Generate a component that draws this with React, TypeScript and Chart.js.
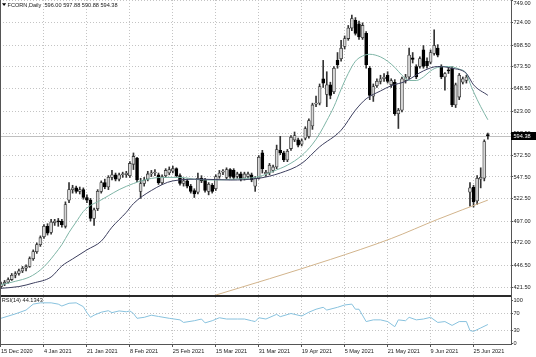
import React, { useEffect, useRef } from "react";
import { Chart, registerables } from "chart.js";

Chart.register(...registerables);

// ---------- data ----------
const TICK_IDX = [0, 12, 24, 36, 48, 60, 72, 84, 96, 108, 120, 132];
const TICK_LABELS = [
  "15 Dec 2020", "4 Jan 2021", "21 Jan 2021", "8 Feb 2021", "25 Feb 2021", "15 Mar 2021",
  "31 Mar 2021", "19 Apr 2021", "5 May 2021", "21 May 2021", "9 Jun 2021", "25 Jun 2021",
];
const PRICE_TICKS = [749.0, 724.0, 698.5, 673.5, 648.5, 623.0, 597.5, 572.5, 547.5, 522.5, 497.0, 472.0, 446.5, 421.5];
const RSI_TICKS = [0, 30, 70, 100];

const OPEN = [
  422, 425, 427, 430, 435, 437, 440, 443, 445, 454, 462, 470, 479, 491, 484, 495, 497, 497, 491, 521,
  533, 535, 531, 533, 524, 521, 500, 511, 531, 541, 536, 547, 550, 545, 550, 550, 549, 562, 569, 531,
  540, 545, 551, 552, 550, 541, 549, 552, 554, 557, 549, 540, 543, 537, 532, 530, 546, 544, 531, 538,
  534, 548, 553, 547, 556, 555, 548, 551, 546, 548, 550, 537, 546, 575, 551, 552, 555, 559, 578, 575,
  567, 580, 590, 590, 585, 592, 594, 606, 631, 632, 660, 642, 653, 645, 681, 683, 697, 706, 718, 727,
  723, 707, 712, 672, 640, 652, 657, 660, 664, 653, 656, 620, 624, 658, 662, 684, 674, 674, 693, 680,
  679, 689, 695, 674, 662, 670, 672, 630, 639, 656, 658, 530, 536, 520, 545, 546, 596.0,
];
const HIGH = [
  427, 429, 432, 437, 439, 442, 445, 447, 456, 464, 472, 480, 493, 494, 499, 499, 500, 499, 519, 541,
  538, 537, 536, 535, 527, 523, 512, 533, 543, 545, 549, 555, 552, 552, 553, 554, 565, 575, 570, 546,
  547, 554, 555, 556, 552, 550, 557, 559, 560, 558, 551, 546, 545, 539, 534, 552, 549, 546, 541, 540,
  550, 555, 556, 558, 557, 557, 553, 553, 553, 553, 552, 548, 572, 578, 555, 563, 561, 584, 594, 577,
  579, 595, 599, 592, 591, 605, 614, 632, 640, 654, 681, 668, 656, 674, 690, 704, 709, 721, 733, 730,
  726, 724, 714, 674, 654, 660, 664, 666, 668, 660, 659, 626, 662, 665, 695, 690, 676, 685, 698, 684,
  693, 716, 699, 676, 667, 673, 674, 655, 666, 662, 664, 541, 538, 549, 558, 590, 597.88,
];
const LOW = [
  420, 423, 426, 429, 432, 435, 438, 440, 444, 452, 460, 468, 477, 481, 482, 492, 491, 490, 489, 518,
  529, 529, 528, 522, 518, 497, 492, 509, 529, 534, 533, 544, 543, 543, 547, 547, 547, 556, 542, 523,
  537, 543, 548, 549, 539, 539, 547, 550, 552, 547, 538, 537, 535, 529, 524, 528, 541, 530, 527, 529,
  532, 546, 550, 545, 546, 545, 546, 543, 544, 546, 542, 531, 545, 552, 548, 550, 553, 557, 573, 565,
  565, 578, 588, 582, 583, 590, 592, 602, 628, 630, 650, 628, 637, 643, 672, 680, 694, 704, 715, 710,
  705, 705, 672, 636, 634, 650, 654, 657, 655, 650, 618, 603, 622, 655, 660, 678, 660, 672, 672, 672,
  677, 687, 685, 660, 647, 666, 628, 627, 636, 654, 655, 514, 513, 516, 535, 543, 590.88,
];
const CLOSE = [
  425, 427, 430, 435, 437, 440, 443, 445, 454, 462, 470, 478, 491, 483, 496, 497, 496, 493, 516, 533,
  535, 531, 533, 524, 521, 500, 510, 531, 541, 536, 547, 550, 545, 550, 551, 552, 563, 571, 544, 540,
  544, 551, 552, 552.5, 541, 548, 555, 556, 557, 549, 540, 543, 537, 531, 528, 546, 543, 532, 539, 531,
  548, 552, 553.5, 556, 548, 547, 551, 545, 551, 551, 544, 546, 570, 557, 553, 561, 559, 579, 575, 567,
  577, 593, 595, 584, 589, 603, 612, 630, 632, 651, 655, 653, 641, 672, 676, 695, 706, 718, 729, 712,
  708, 721, 676, 641, 651, 657, 660, 662, 657, 658, 620, 624, 660, 662, 687, 682, 662, 683, 674, 675,
  690, 698, 687, 662, 666, 669, 630, 653, 664, 660, 662, 535, 519, 546, 547, 588, 594.38,
];

// moving averages: [bar index, value]
const MA_FAST: [number, number][] = [
  [0, 424], [4, 428], [8, 433], [11, 441], [13, 449], [15, 459], [17, 470], [19, 484], [21, 496], [23, 508],
  [25, 515], [27, 519], [30, 526], [33, 533], [37, 540], [41, 545], [45, 547], [50, 547], [55, 544.5], [60, 544],
  [65, 545], [70, 546.5], [73, 549], [76, 554], [80, 561], [84, 572], [87, 585], [89, 597], [91, 612], [93, 628],
  [95, 648], [97, 666], [99, 680], [101, 686], [103, 688], [106, 685], [108, 680], [110, 673], [112, 664], [114, 658],
  [116, 658], [118, 662], [120, 669], [122, 673], [125, 674], [128, 671], [130, 666], [131, 655], [132, 645], [134, 628],
  [136, 613],
];
const MA_SLOW: [number, number][] = [
  [0, 420], [5, 422], [9, 426], [14, 433], [17, 445.6], [20, 453.6], [24, 464], [28, 474], [31, 490], [35, 507],
  [37, 517], [42, 532], [48, 543], [56, 545], [64, 544], [72, 546], [78, 552], [84, 563], [89, 582], [95, 601],
  [99, 624], [102, 637], [106, 646], [109, 652], [113, 657], [118, 669], [122, 674], [126, 672], [130, 666], [132, 653],
  [136, 641],
];
const MA_LONG: [number, number][] = [
  [50, 400], [59, 411], [75, 431], [92, 453], [109, 477], [122, 499], [136, 521],
];
const RSI: [number, number][] = [
  [0, 58.7], [4, 69], [7, 78], [9, 92], [11, 95], [14, 95], [16, 92], [17, 87.5], [19, 94], [21, 95],
  [23, 86], [24, 72], [25, 61], [26, 66], [28, 73], [30, 76.5], [31, 72], [33, 76], [35, 74], [36, 76],
  [37, 70], [38, 58.7], [40, 61], [42, 66], [44, 63], [47, 58.7], [50, 55], [51, 49], [54, 53], [56, 57],
  [57, 48], [59, 53], [61, 60], [63, 57], [66, 57], [68, 57], [70, 53], [71, 51], [72, 60], [74, 57],
  [77, 68], [78, 62.5], [81, 70], [84, 64], [86, 73], [88, 80], [90, 84.5], [91, 78], [94, 84.5], [96, 90],
  [98, 92], [99, 80], [100, 80], [102, 51], [104, 55], [106, 55], [108, 51], [110, 39], [111, 55], [113, 53],
  [114, 61], [116, 55], [118, 57], [120, 61], [122, 49], [124, 51], [126, 42], [128, 51], [130, 51], [131, 30],
  [132, 28], [134, 36], [136, 44.1343],
];

const TITLE = "FCORN,Daily  596.00 597.88 590.88 594.38";
const RSI_TITLE = "RSI(14) 44.1343";
const LAST_CLOSE = CLOSE[CLOSE.length - 1];
const TOP_TICK = PRICE_TICKS[0];

// ---------- styles ----------
const FONT_FAMILY = '"Liberation Sans", Arial, sans-serif';
const FONT_SIZE = 5.6;
const TEXT = "#1a1a1a";
const GRID = "#c4c4c4";
const BORDER = "#555555";
const BULL = "#d6d6d6";
const BULL_EDGE = "#3a3a3a";
const BEAR = "#000000";
const WICK = "#333333";
const FAST_COLOR = "#7fb5a6";
const SLOW_COLOR = "#3c3e5e";
const LONG_COLOR = "#d2b48c";
const RSI_COLOR = "#88c2de";

const X_MIN = -0.279;
const X_MAX = 142.46;
const P_MAX = 750.145;
const P_MIN = 410.05;
const R_MAX = 108.7;
const R_MIN = -1.64;
const AXIS_W = 25;

export default function App() {
  const mainRef = useRef<HTMLCanvasElement>(null);
  const rsiRef = useRef<HTMLCanvasElement>(null);

  useEffect(() => {
    const font = { family: FONT_FAMILY, size: FONT_SIZE };
    const cssFont = `${FONT_SIZE}px ${FONT_FAMILY}`;
    const idx = CLOSE.map((_, i) => i);
    const up = (i: number) => CLOSE[i] >= OPEN[i];

    const xTicks = (s: any) => {
      s.ticks = TICK_IDX.map((v) => ({ value: v }));
    };

    const mainDecor = {
      id: "mainDecor",
      beforeDatasetsDraw(chart: any) {
        const { ctx, chartArea: a, scales } = chart;
        const py = Math.round(scales.y.getPixelForValue(LAST_CLOSE)) + 0.5;
        ctx.save();
        ctx.strokeStyle = "#c0c0c0";
        ctx.lineWidth = 1;
        ctx.beginPath();
        ctx.moveTo(a.left, py);
        ctx.lineTo(a.right, py);
        ctx.stroke();
        ctx.restore();
      },
      afterDraw(chart: any) {
        const { ctx, chartArea: a, scales } = chart;
        ctx.save();
        // panel separator
        ctx.fillStyle = "#2a2a2a";
        ctx.fillRect(0, a.bottom - 2, a.right + 1, 2);
        // borders
        ctx.fillStyle = BORDER;
        ctx.fillRect(a.right, 0, 1, a.bottom);
        ctx.fillRect(0, 0, 1, a.bottom);
        ctx.font = cssFont;
        ctx.textAlign = "left";
        ctx.textBaseline = "middle";
        // top price label (kept inside the canvas, as the terminal does)
        ctx.fillStyle = TEXT;
        const ty = Math.max(scales.y.getPixelForValue(TOP_TICK), 3.5);
        ctx.fillText(TOP_TICK.toFixed(2), a.right + 2.5, ty);
        // current price box
        const py = Math.round(scales.y.getPixelForValue(LAST_CLOSE));
        ctx.fillStyle = "#000";
        ctx.fillRect(a.right, py - 4, chart.width - a.right, 8);
        ctx.fillStyle = "#fff";
        ctx.fillText(LAST_CLOSE.toFixed(2), a.right + 2.5, py + 0.5);
        // title
        ctx.fillStyle = "#000";
        ctx.beginPath();
        ctx.moveTo(2, 3.2);
        ctx.lineTo(6.2, 3.2);
        ctx.lineTo(4.1, 6);
        ctx.closePath();
        ctx.fill();
        ctx.fillStyle = TEXT;
        ctx.fillText(TITLE, 7.5, 5);
        ctx.restore();
      },
    };

    const rsiDecor = {
      id: "rsiDecor",
      afterDraw(chart: any) {
        const { ctx, chartArea: a } = chart;
        ctx.save();
        ctx.fillStyle = BORDER;
        ctx.fillRect(a.right, 0, 1, a.bottom + 1);
        ctx.fillRect(0, a.bottom, a.right + 1, 1);
        ctx.fillRect(0, 0, 1, a.bottom);
        ctx.fillStyle = TEXT;
        ctx.font = cssFont;
        ctx.textAlign = "left";
        ctx.textBaseline = "middle";
        ctx.fillText(RSI_TITLE, 1.7, 3.9);
        ctx.restore();
      },
    };

    const lineDs = (pts: [number, number][], color: string) => ({
      type: "line" as const,
      data: pts.map(([x, y]) => ({ x, y })),
      borderColor: color,
      borderWidth: 1,
      pointRadius: 0,
      cubicInterpolationMode: "monotone" as const,
      order: 0,
    });

    const main = new Chart(mainRef.current as HTMLCanvasElement, {
      type: "bar",
      data: {
        datasets: [
          lineDs(MA_LONG, LONG_COLOR),
          lineDs(MA_SLOW, SLOW_COLOR),
          lineDs(MA_FAST, FAST_COLOR),
          {
            type: "bar",
            data: idx.map((i) => ({ x: i, y: [OPEN[i], CLOSE[i]] })),
            backgroundColor: idx.map((i) => (up(i) ? BULL : BEAR)),
            borderColor: idx.map((i) => (up(i) ? BULL_EDGE : BEAR)),
            borderWidth: 0.8,
            borderSkipped: false,
            barThickness: 3,
            minBarLength: 1,
            grouped: false,
            order: 1,
          } as any,
          {
            type: "bar",
            data: idx.map((i) => ({ x: i, y: [LOW[i], HIGH[i]] })),
            backgroundColor: WICK,
            borderWidth: 0,
            barThickness: 1,
            grouped: false,
            order: 2,
          } as any,
        ],
      },
      options: {
        animation: false,
        responsive: false,
        maintainAspectRatio: false,
        devicePixelRatio: 1,
        layout: { padding: 0 },
        plugins: { legend: { display: false }, tooltip: { enabled: false }, title: { display: false } },
        scales: {
          x: {
            type: "linear",
            min: X_MIN,
            max: X_MAX,
            offset: false,
            bounds: "data",
            grid: { display: true, color: GRID, lineWidth: 1, drawTicks: false, offset: false },
            border: { display: false, dash: [1, 2] },
            ticks: { display: false },
            afterBuildTicks: xTicks,
            afterFit: (s: any) => {
              s.height = 0;
              s.paddingLeft = 0;
              s.paddingRight = 0;
            },
          },
          y: {
            type: "linear",
            position: "right",
            min: P_MIN,
            max: P_MAX,
            bounds: "data",
            grid: { color: GRID, lineWidth: 1, drawTicks: true, tickLength: 2, tickColor: BORDER, tickBorderDash: [] },
            border: { display: false, dash: [1, 2] },
            ticks: {
              color: TEXT,
              font,
              padding: 0.5,
              autoSkip: false,
              callback: (v: any) => (Number(v) === TOP_TICK ? "" : Number(v).toFixed(2)),
            },
            afterBuildTicks: (s: any) => {
              s.ticks = PRICE_TICKS.map((v) => ({ value: v }));
            },
            afterFit: (s: any) => {
              s.width = AXIS_W;
              s.paddingTop = 0;
              s.paddingBottom = 0;
            },
          },
        },
      } as any,
      plugins: [mainDecor],
    });

    const rsi = new Chart(rsiRef.current as HTMLCanvasElement, {
      type: "line",
      data: {
        datasets: [
          {
            data: RSI.map(([x, y]) => ({ x, y })),
            borderColor: RSI_COLOR,
            borderWidth: 1,
            pointRadius: 0,
            tension: 0,
          },
        ],
      },
      options: {
        animation: false,
        responsive: false,
        maintainAspectRatio: false,
        devicePixelRatio: 1,
        layout: { padding: 0 },
        plugins: { legend: { display: false }, tooltip: { enabled: false }, title: { display: false } },
        scales: {
          x: {
            type: "linear",
            min: X_MIN,
            max: X_MAX,
            offset: false,
            bounds: "data",
            grid: {
              display: true,
              color: GRID,
              lineWidth: 1,
              drawTicks: true,
              tickLength: 3,
              tickColor: BORDER,
              tickBorderDash: [],
              offset: false,
            },
            border: { display: false, dash: [1, 2] },
            ticks: {
              align: "start",
              color: TEXT,
              font,
              padding: 1,
              maxRotation: 0,
              minRotation: 0,
              autoSkip: false,
              callback: (v: any) => {
                const k = TICK_IDX.indexOf(Number(v));
                return k >= 0 ? TICK_LABELS[k] : "";
              },
            },
            afterBuildTicks: xTicks,
            afterFit: (s: any) => {
              s.height = 13;
              s.paddingLeft = 0;
              s.paddingRight = 0;
            },
          },
          y: {
            type: "linear",
            position: "right",
            min: R_MIN,
            max: R_MAX,
            bounds: "data",
            grid: {
              color: (c: any) => (c.tick && (c.tick.value === 30 || c.tick.value === 70) ? GRID : "rgba(0,0,0,0)"),
              lineWidth: 1,
              drawTicks: true,
              tickLength: 2,
              tickColor: BORDER,
              tickBorderDash: [],
            },
            border: { display: false, dash: [1, 2] },
            ticks: { color: TEXT, font, padding: 0.5, autoSkip: false, callback: (v: any) => String(v) },
            afterBuildTicks: (s: any) => {
              s.ticks = RSI_TICKS.map((v) => ({ value: v }));
            },
            afterFit: (s: any) => {
              s.width = AXIS_W;
              s.paddingTop = 0;
              s.paddingBottom = 0;
            },
          },
        },
      } as any,
      plugins: [rsiDecor],
    });

    return () => {
      main.destroy();
      rsi.destroy();
    };
  }, []);

  return (
    <div style={{ position: "fixed", left: 0, top: 0, width: 536, height: 357, background: "#ffffff", overflow: "hidden" }}>
      <canvas ref={mainRef} width={536} height={297} style={{ position: "absolute", left: 0, top: 0, width: 536, height: 297 }} />
      <canvas ref={rsiRef} width={536} height={60} style={{ position: "absolute", left: 0, top: 297, width: 536, height: 60 }} />
    </div>
  );
}
